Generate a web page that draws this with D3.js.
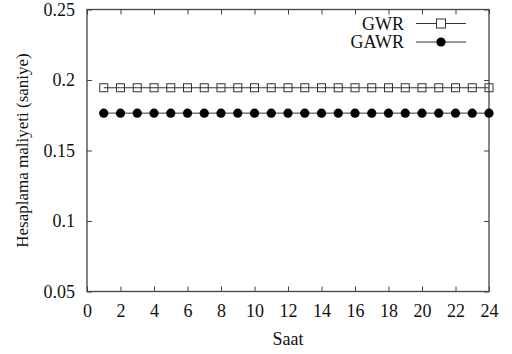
<!DOCTYPE html>
<html>
<head>
<meta charset="utf-8">
<script src="https://cdn.jsdelivr.net/npm/d3@7"></script>
<style>
  body { margin: 0; background: #fff; }
  svg { display: block; }
</style>
</head>
<body>
<div id="chart"></div>
<script>
// hours 1..24
var hours = d3.range(1, 25);
var gwr  = [0.1945, 0.1945, 0.1945, 0.1945, 0.1945, 0.1945, 0.1945, 0.1945, 0.1945, 0.1945, 0.1945, 0.1945,
            0.1945, 0.1945, 0.1945, 0.1945, 0.1945, 0.1945, 0.1945, 0.1945, 0.1945, 0.1945, 0.1945, 0.1945];
var gawr = [0.1765, 0.1765, 0.1765, 0.1765, 0.1765, 0.1765, 0.1765, 0.1765, 0.1765, 0.1765, 0.1765, 0.1765,
            0.1765, 0.1765, 0.1765, 0.1765, 0.1765, 0.1765, 0.1765, 0.1765, 0.1765, 0.1765, 0.1765, 0.1765];
var xTicks = [0, 2, 4, 6, 8, 10, 12, 14, 16, 18, 20, 22, 24];
var yTicks = [0.05, 0.1, 0.15, 0.2, 0.25];

var FONT = "'Liberation Serif'";

var W = 512, H = 354;
var margin = {top: 9.5, right: 23, bottom: 62.5, left: 87},
    width = W - margin.left - margin.right,
    height = H - margin.top - margin.bottom;

var svg = d3.select("#chart").append("svg").attr("width", W).attr("height", H);
var g = svg.append("g").attr("transform", "translate(" + margin.left + "," + margin.top + ")");

var x = d3.scaleLinear().domain([0, 24]).range([0, width]);
var y = d3.scaleLinear().domain([0.05, 0.25]).range([height, 0]);

var axisColor = "#444";
var tickLen = 5;

// bottom axis: inward ticks, labels below
var xa = g.append("g").attr("transform", "translate(0," + height + ")")
    .call(d3.axisBottom(x).tickValues(xTicks).tickSize(-tickLen).tickPadding(13).tickFormat(d3.format("d")));
// top mirror ticks
var xt = g.append("g")
    .call(d3.axisTop(x).tickValues(xTicks).tickSize(-tickLen).tickFormat(""));
// left axis
var ya = g.append("g")
    .call(d3.axisLeft(y).tickValues(yTicks).tickSize(-tickLen).tickPadding(12).tickFormat(function(d) { return String(+d.toFixed(2)); }));
// right mirror ticks
var yr = g.append("g").attr("transform", "translate(" + width + ",0)")
    .call(d3.axisRight(y).tickValues(yTicks).tickSize(-tickLen).tickFormat(""));

[xa, xt, ya, yr].forEach(function(a) {
  a.attr("font-family", null).attr("font-size", null);
  a.select(".domain").remove();
  a.selectAll(".tick line").attr("stroke", axisColor);
  a.selectAll("text").style("font-family", FONT).style("font-size", "18px").attr("fill", "#111");
});

// frame
g.append("rect").attr("x", 0).attr("y", 0).attr("width", width).attr("height", height)
  .attr("fill", "none").attr("stroke", axisColor).attr("stroke-width", 1.3);

var line = function(vals) {
  return d3.line().x(function(d, i) { return x(hours[i]); }).y(function(d) { return y(d); })(vals);
};

// GWR
g.append("path").attr("d", line(gwr)).attr("fill", "none").attr("stroke", "#333").attr("stroke-width", 1);
var sq = 8;
g.selectAll(".sq").data(gwr).enter().append("rect")
  .attr("x", function(d, i) { return x(hours[i]) - sq / 2; })
  .attr("y", function(d) { return y(d) - sq / 2; })
  .attr("width", sq).attr("height", sq)
  .attr("fill", "none").attr("stroke", "#333").attr("stroke-width", 1);

// GAWR
g.append("path").attr("d", line(gawr)).attr("fill", "none").attr("stroke", "#333").attr("stroke-width", 1);
g.selectAll(".ci").data(gawr).enter().append("circle")
  .attr("cx", function(d, i) { return x(hours[i]); })
  .attr("cy", function(d) { return y(d); })
  .attr("r", 4.6).attr("fill", "#000");

// legend
var legend = [
  {name: "GWR", marker: "square", y: 23.5},
  {name: "GAWR", marker: "circle", y: 42}
];
var lg = svg.append("g");
legend.forEach(function(l) {
  lg.append("text").attr("x", 404).attr("y", l.y).attr("dy", "0.35em")
    .attr("text-anchor", "end").style("font-family", FONT).style("font-size", "18px").attr("fill", "#111").text(l.name);
  lg.append("line").attr("x1", 416).attr("x2", 466).attr("y1", l.y).attr("y2", l.y)
    .attr("stroke", "#333").attr("stroke-width", 1);
  if (l.marker === "square") {
    lg.append("rect").attr("x", 441 - 4.5).attr("y", l.y - 4.5).attr("width", 9).attr("height", 9)
      .attr("fill", "#fff").attr("stroke", "#333").attr("stroke-width", 1);
  } else {
    lg.append("circle").attr("cx", 441).attr("cy", l.y).attr("r", 4.6).attr("fill", "#000");
  }
});

// axis titles
svg.append("text").attr("x", margin.left + width / 2).attr("y", 345)
  .attr("text-anchor", "middle").style("font-family", FONT).style("font-size", "18px").attr("fill", "#111").text("Saat");
svg.append("text")
  .attr("transform", "translate(22," + (margin.top + height / 2) + ") rotate(-90)")
  .attr("text-anchor", "middle").attr("dy", "0.35em").style("font-family", FONT).style("font-size", "17px").attr("fill", "#111")
  .text("Hesaplama maliyeti (saniye)");
</script>
</body>
</html>
